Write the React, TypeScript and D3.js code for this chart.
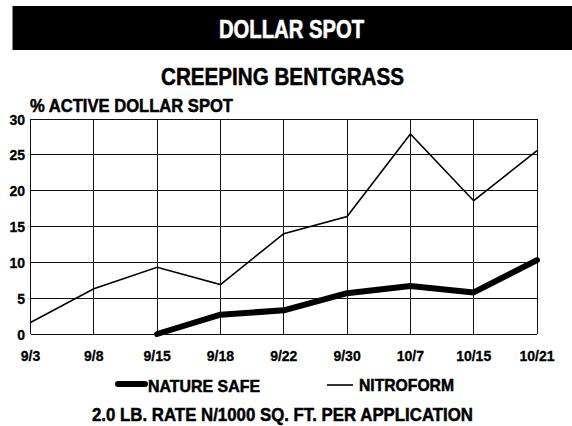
import React from "react";
import * as d3 from "d3";

// dates on the x axis
const dates = ["9/3", "9/8", "9/15", "9/18", "9/22", "9/30", "10/7", "10/15", "10/21"];
const yTicks = [0, 5, 10, 15, 20, 25, 30];

// % active dollar spot
const natureSafe: (number | null)[] = [null, null, 0, 2.7, 3.3, 5.7, 6.7, 5.8, 10.3];
const nitroform: number[] = [1.6, 6.3, 9.3, 6.9, 14.0, 16.4, 27.9, 18.6, 25.6];

const W = 572;
const H = 426;
const left = 30.5;
const right = 537;
const top = 119;
const bottom = 334;

const font = "'Liberation Sans', Arial, Helvetica, sans-serif";

const App = () => {
  const x = d3.scalePoint<string>().domain(dates).range([left, right]).padding(0);
  const y = d3.scaleLinear().domain([0, 30]).range([bottom, top]);

  const line = d3
    .line<number | null>()
    .defined((d) => d !== null)
    .x((_, i) => x(dates[i]) as number)
    .y((d) => y(d as number));

  // heavier look for the condensed-black lettering
  const heavy = { stroke: "#000", strokeWidth: 0.5 };

  return (
    <svg width={W} height={H} style={{ position: "absolute", left: 0, top: 0, background: "#fff" }} fontFamily={font}>
      {/* banner */}
      <rect x={12.5} y={6} width={W - 12.5} height={44} fill="#000" />
      <text x={219} y={38} fill="#fff" stroke="#fff" strokeWidth={0.6} fontSize={26} fontWeight="bold" textLength={145} lengthAdjust="spacingAndGlyphs">
        DOLLAR SPOT
      </text>

      <text x={161} y={85} {...heavy} fontSize={23} fontWeight="bold" textLength={243} lengthAdjust="spacingAndGlyphs">
        CREEPING BENTGRASS
      </text>
      <text x={30} y={112} {...heavy} fontSize={18} fontWeight="bold" textLength={203} lengthAdjust="spacingAndGlyphs">
        % ACTIVE DOLLAR SPOT
      </text>

      {/* grid */}
      <g stroke="#111" strokeWidth={1} shapeRendering="crispEdges">
        {yTicks.map((t) => (
          <line key={"h" + t} x1={left} x2={right} y1={y(t)} y2={y(t)} />
        ))}
        {dates.map((d) => (
          <line key={"v" + d} x1={x(d)} x2={x(d)} y1={top} y2={bottom} />
        ))}
      </g>

      {/* y tick labels */}
      {yTicks.map((t) => (
        <text key={"yl" + t} x={25} y={y(t) + 5.5} textAnchor="end" fontSize={14} fontWeight="bold" {...heavy} strokeWidth={0.3}>
          {t}
        </text>
      ))}

      {/* x tick labels */}
      {dates.map((d) => (
        <text key={"xl" + d} x={x(d)} y={361} textAnchor="middle" fontSize={14} fontWeight="bold" {...heavy} strokeWidth={0.3}>
          {d}
        </text>
      ))}

      {/* series */}
      <path d={line(nitroform) || ""} fill="none" stroke="#000" strokeWidth={1.6} strokeLinejoin="miter" />
      <path d={line(natureSafe) || ""} fill="none" stroke="#000" strokeWidth={6} strokeLinecap="round" strokeLinejoin="round" />

      {/* legend */}
      <line x1={118} x2={145} y1={384} y2={384} stroke="#000" strokeWidth={6} strokeLinecap="round" />
      <text x={148} y={392} {...heavy} fontSize={17} fontWeight="bold" textLength={112} lengthAdjust="spacingAndGlyphs">
        NATURE SAFE
      </text>
      <line x1={327} x2={353} y1={385} y2={385} stroke="#000" strokeWidth={1.6} />
      <text x={359} y={391} {...heavy} fontSize={17} fontWeight="bold" textLength={95} lengthAdjust="spacingAndGlyphs">
        NITROFORM
      </text>

      <text x={92} y={421} {...heavy} fontSize={19} fontWeight="bold" textLength={381} lengthAdjust="spacingAndGlyphs">
        2.0 LB. RATE N/1000 SQ. FT. PER APPLICATION
      </text>
    </svg>
  );
};

export default App;
